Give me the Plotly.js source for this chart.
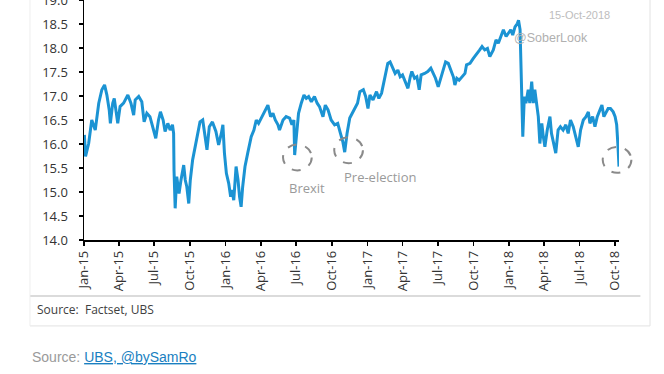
<!DOCTYPE html>
<html>
<head>
<meta charset="utf-8">
<script src="https://cdn.plot.ly/plotly-3.0.1.min.js"></script>
<style>html,body{margin:0;padding:0;background:#fff;}#chart{width:664px;height:374px;}</style>
</head>
<body>
<div id="chart"></div>
<script>
var dates = ["2015-01-02","2015-01-05","2015-01-13","2015-01-21","2015-01-30","2015-02-08","2015-02-16","2015-02-23","2015-03-01","2015-03-07","2015-03-10","2015-03-16","2015-03-20","2015-03-25","2015-03-29","2015-04-04","2015-04-13","2015-04-24","2015-05-02","2015-05-09","2015-05-13","2015-05-22","2015-05-30","2015-06-05","2015-06-12","2015-06-20","2015-06-29","2015-07-05","2015-07-12","2015-07-17","2015-07-24","2015-07-29","2015-08-05","2015-08-11","2015-08-17","2015-08-20","2015-08-21","2015-08-24","2015-08-28","2015-09-03","2015-09-08","2015-09-15","2015-09-19","2015-09-23","2015-09-28","2015-10-02","2015-10-08","2015-10-14","2015-10-21","2015-10-27","2015-11-03","2015-11-09","2015-11-14","2015-11-20","2015-11-28","2015-12-07","2015-12-14","2015-12-21","2015-12-25","2015-12-29","2016-01-03","2016-01-09","2016-01-14","2016-01-17","2016-01-22","2016-01-28","2016-02-02","2016-02-06","2016-02-10","2016-02-14","2016-02-20","2016-02-27","2016-03-07","2016-03-14","2016-03-20","2016-03-26","2016-04-02","2016-04-10","2016-04-19","2016-04-26","2016-05-02","2016-05-08","2016-05-15","2016-05-19","2016-05-28","2016-06-05","2016-06-14","2016-06-20","2016-06-25","2016-06-27","2016-07-02","2016-07-07","2016-07-14","2016-07-21","2016-07-27","2016-08-02","2016-08-09","2016-08-17","2016-08-24","2016-08-30","2016-09-08","2016-09-14","2016-09-21","2016-09-29","2016-10-08","2016-10-16","2016-10-23","2016-10-29","2016-11-03","2016-11-09","2016-11-16","2016-11-24","2016-11-30","2016-12-06","2016-12-12","2016-12-21","2016-12-27","2017-01-02","2017-01-07","2017-01-15","2017-01-24","2017-01-30","2017-02-06","2017-02-15","2017-02-22","2017-02-28","2017-03-06","2017-03-13","2017-03-20","2017-03-26","2017-04-01","2017-04-08","2017-04-15","2017-04-21","2017-04-25","2017-05-02","2017-05-08","2017-05-14","2017-05-19","2017-05-28","2017-06-05","2017-06-13","2017-06-19","2017-06-25","2017-07-02","2017-07-09","2017-07-15","2017-07-21","2017-07-28","2017-08-04","2017-08-10","2017-08-14","2017-08-19","2017-08-25","2017-09-01","2017-09-09","2017-09-13","2017-09-22","2017-09-30","2017-10-09","2017-10-17","2017-10-23","2017-10-30","2017-11-06","2017-11-12","2017-11-21","2017-11-28","2017-12-04","2017-12-10","2017-12-17","2017-12-24","2017-12-30","2018-01-05","2018-01-10","2018-01-16","2018-01-22","2018-01-25","2018-01-29","2018-01-31","2018-02-02","2018-02-05","2018-02-09","2018-02-13","2018-02-19","2018-02-23","2018-02-28","2018-03-04","2018-03-08","2018-03-13","2018-03-17","2018-03-21","2018-03-26","2018-03-30","2018-04-03","2018-04-09","2018-04-16","2018-04-20","2018-04-25","2018-05-01","2018-05-07","2018-05-13","2018-05-20","2018-05-27","2018-06-02","2018-06-08","2018-06-15","2018-06-22","2018-06-28","2018-07-04","2018-07-11","2018-07-18","2018-07-24","2018-07-28","2018-08-04","2018-08-10","2018-08-16","2018-08-23","2018-08-28","2018-09-02","2018-09-07","2018-09-13","2018-09-19","2018-09-26","2018-10-01","2018-10-05","2018-10-08","2018-10-11"];
var values = [16.19,15.74,16.01,16.50,16.29,16.85,17.13,17.23,17.02,16.71,16.43,16.85,16.95,16.64,16.43,16.78,16.85,17.02,16.85,16.60,16.92,16.99,16.88,16.46,16.64,16.57,16.29,16.12,16.50,16.67,16.50,16.26,16.43,16.29,16.40,16.22,15.46,14.66,15.32,14.97,15.25,15.56,15.25,15.11,14.76,15.25,15.67,15.94,16.22,16.46,16.50,16.15,15.88,16.36,16.46,16.26,15.98,16.22,16.40,15.81,15.39,15.18,14.90,15.04,14.83,15.53,15.25,14.90,14.69,15.11,15.53,15.81,16.15,16.29,16.50,16.43,16.54,16.64,16.81,16.57,16.64,16.50,16.40,16.29,16.50,16.57,16.54,16.40,16.50,15.77,16.29,16.64,16.85,17.02,16.95,16.99,16.88,16.99,16.85,16.78,16.57,16.81,16.71,16.50,16.40,16.43,16.22,16.05,15.83,16.22,16.54,16.67,16.75,16.85,17.09,17.13,16.99,16.74,17.02,16.92,17.09,16.95,17.06,17.40,17.68,17.71,17.61,17.47,17.54,17.40,17.44,17.30,17.16,17.40,17.51,17.37,17.40,17.13,17.44,17.47,17.51,17.58,17.47,17.37,17.19,17.40,17.58,17.71,17.68,17.54,17.40,17.23,17.37,17.33,17.40,17.47,17.65,17.68,17.78,17.89,17.96,18.03,17.96,17.99,17.82,17.96,18.17,18.10,18.24,18.38,18.24,18.31,18.38,18.27,18.44,18.51,18.58,18.38,17.75,16.71,16.15,16.99,16.85,17.13,16.85,17.30,16.85,17.13,16.78,16.57,16.01,16.43,16.15,15.94,16.29,16.57,16.22,16.01,15.81,16.29,16.36,16.29,16.40,16.22,16.50,16.36,16.15,15.94,16.29,16.50,16.57,16.67,16.43,16.57,16.36,16.57,16.71,16.81,16.57,16.64,16.74,16.74,16.67,16.57,16.40,16.01,15.53];

var eventLabels = ["Brexit", "Pre-election", ""];
var eventDates = ["2016-07-04", "2016-11-13", "2018-10-06"];
var eventValues = [15.72, 15.87, 15.67];
var labelDates = ["2016-07-29", "2017-02-02"];
var labelValues = [15.08, 15.31];

var xRange = ["2015-01-01", "2018-10-11"];
var yRange = [14, 19];

var t0 = Date.parse(xRange[0]), t1 = Date.parse(xRange[1]);
function frac(d) { return (Date.parse(d) - t0) / (t1 - t0); }
var dayFrac = 86400000 / (t1 - t0);

var shapes = [];
eventDates.forEach(function (d, i) {
  var cx = frac(d);
  shapes.push({
    type: "circle", xref: "paper", yref: "y",
    x0: cx - 37 * dayFrac, x1: cx + 37 * dayFrac,
    y0: eventValues[i] - 0.27, y1: eventValues[i] + 0.27,
    line: { color: "#8a8a8a", width: 2, dash: "dash" }
  });
});
// frame & separator
shapes.push({ type: "line", xref: "paper", yref: "paper", x0: -0.101, x1: 1.04, y0: -0.233, y1: -0.233, line: { color: "#cfcfcf", width: 1.5 } });
shapes.push({ type: "line", xref: "paper", yref: "paper", x0: 1.058, x1: 1.058, y0: 1.05, y1: -0.358, line: { color: "#e2e2e2", width: 1 } });
shapes.push({ type: "line", xref: "paper", yref: "paper", x0: -0.101, x1: 1.058, y0: -0.358, y1: -0.358, line: { color: "#e2e2e2", width: 1 } });
shapes.push({ type: "line", xref: "paper", yref: "paper", x0: -0.101, x1: -0.101, y0: 1.05, y1: -0.358, line: { color: "#eeeeee", width: 1 } });

var annotations = [];
labelDates.forEach(function (d, i) {
  annotations.push({
    x: d, y: labelValues[i], xref: "x", yref: "y", text: eventLabels[i], showarrow: false,
    font: { family: "Open Sans", size: 13, color: "#9a9a9a" }, xanchor: "center", yanchor: "middle"
  });
});
annotations.push({ xref: "paper", yref: "paper", x: 0.987, y: 0.9375, xanchor: "right", yanchor: "middle", showarrow: false,
  text: "15-Oct-2018", font: { family: "Liberation Sans", size: 11, color: "#bdbdbd" } });
annotations.push({ xref: "paper", yref: "paper", x: 0.873, y: 0.842, xanchor: "center", yanchor: "middle", showarrow: false,
  text: "@SoberLook", font: { family: "Liberation Sans", size: 12.5, color: "#b0b0b0" } });
annotations.push({ xref: "paper", yref: "paper", x: -0.0916, y: -0.2875, xanchor: "left", yanchor: "middle", showarrow: false,
  text: "Source:  Factset, UBS", font: { family: "Open Sans", size: 12, color: "#404040" } });
annotations.push({ xref: "paper", yref: "paper", x: -0.101, y: -0.4875, xanchor: "left", yanchor: "middle", showarrow: false,
  text: "Source: <span style=\"color:#1a7fc1;text-decoration:underline\">UBS, @bySamRo</span>",
  font: { family: "Liberation Sans", size: 14, color: "#9a9a9a" } });

var trace = {
  x: dates, y: values, type: "scatter", mode: "lines",
  line: { color: "#1b93d3", width: 3 }, hoverinfo: "x+y"
};

var layout = {
  width: 664, height: 374,
  margin: { l: 84, r: 45, t: 0, b: 134 },
  paper_bgcolor: "#ffffff", plot_bgcolor: "#ffffff",
  showlegend: false,
  font: { family: "Open Sans", color: "#333333" },
  xaxis: {
    type: "date", range: xRange, showgrid: false, zeroline: false,
    showline: true, linecolor: "#000000", linewidth: 1.5,
    ticks: "outside", ticklen: 4, tickcolor: "#000000", tickwidth: 1.5,
    tick0: "2015-01-01", dtick: "M3", tickformat: "%b-%y", tickangle: -90,
    tickfont: { family: "Open Sans", size: 13, color: "#333333" }
  },
  yaxis: {
    range: yRange, showgrid: false, zeroline: false,
    showline: true, linecolor: "#000000", linewidth: 1.5,
    ticks: "outside", ticklen: 4, tickcolor: "#000000", tickwidth: 1.5,
    dtick: 0.5, tickformat: ".1f", ticklabelstandoff: 8, ticklabeloverflow: "allow",
    tickfont: { family: "Open Sans", size: 13, color: "#333333" }
  },
  shapes: shapes,
  annotations: annotations
};

Plotly.newPlot("chart", [trace], layout, { displayModeBar: false, staticPlot: true });
</script>
</body>
</html>
